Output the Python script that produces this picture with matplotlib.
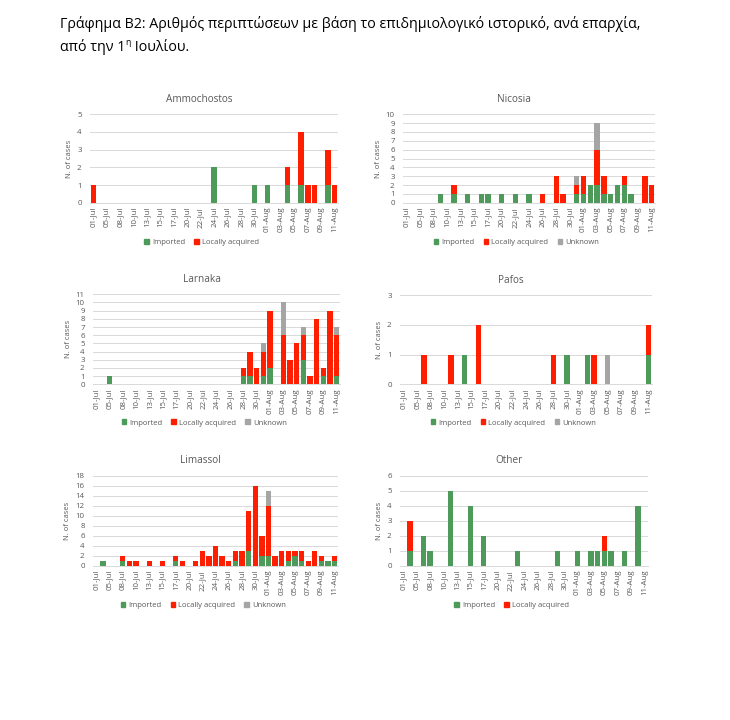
import matplotlib
matplotlib.use("Agg")
import matplotlib.pyplot as plt
from matplotlib.patches import Patch

plt.rcParams['font.family'] = ['Open Sans', 'DejaVu Sans']

W, H = 730, 720

# category axis (Excel text categories, only every other label is shown)
dates = ["01-Jul", "03-Jul", "05-Jul", "07-Jul", "08-Jul", "09-Jul", "10-Jul", "12-Jul",
         "13-Jul", "14-Jul", "15-Jul", "16-Jul", "17-Jul", "19-Jul", "20-Jul", "21-Jul",
         "22-Jul", "23-Jul", "24-Jul", "25-Jul", "26-Jul", "27-Jul", "28-Jul", "29-Jul",
         "30-Jul", "31-Jul", "01-Aug", "02-Aug", "03-Aug", "04-Aug", "05-Aug", "06-Aug",
         "07-Aug", "08-Aug", "09-Aug", "10-Aug", "11-Aug"]

ammo_imported = [0, 0, 0, 0, 0, 0, 0, 0, 0, 0,  0, 0, 0, 0, 0, 0, 0, 0, 2, 0,
                 0, 0, 0, 0, 1, 0, 1, 0, 0, 1,  0, 1, 0, 0, 0, 1, 0]
ammo_local = [1, 0, 0, 0, 0, 0, 0, 0, 0, 0,  0, 0, 0, 0, 0, 0, 0, 0, 0, 0,
              0, 0, 0, 0, 0, 0, 0, 0, 0, 1,  0, 3, 1, 1, 0, 2, 1]

nic_imported = [0, 0, 0, 0, 0, 1, 0, 1, 0, 1,  0, 1, 1, 0, 1, 0, 1, 0, 1, 0,
                0, 0, 0, 0, 0, 1, 1, 2, 2, 1,  1, 2, 2, 1, 0, 0, 0]
nic_local = [0, 0, 0, 0, 0, 0, 0, 1, 0, 0,  0, 0, 0, 0, 0, 0, 0, 0, 0, 0,
             1, 0, 3, 1, 0, 1, 2, 0, 4, 2,  0, 0, 1, 0, 0, 3, 2]
nic_unknown = [0, 0, 0, 0, 0, 0, 0, 0, 0, 0,  0, 0, 0, 0, 0, 0, 0, 0, 0, 0,
               0, 0, 0, 0, 0, 1, 0, 0, 3, 0,  0, 0, 0, 0, 0, 0, 0]

lar_imported = [0, 0, 1, 0, 0, 0, 0, 0, 0, 0,  0, 0, 0, 0, 0, 0, 0, 0, 0, 0,
                0, 0, 1, 1, 0, 1, 2, 0, 0, 0,  0, 3, 0, 0, 1, 0, 1]
lar_local = [0, 0, 0, 0, 0, 0, 0, 0, 0, 0,  0, 0, 0, 0, 0, 0, 0, 0, 0, 0,
             0, 0, 1, 3, 2, 3, 7, 0, 6, 3,  5, 3, 1, 8, 1, 9, 5]
lar_unknown = [0, 0, 0, 0, 0, 0, 0, 0, 0, 0,  0, 0, 0, 0, 0, 0, 0, 0, 0, 0,
               0, 0, 0, 0, 0, 1, 0, 0, 4, 0,  0, 1, 0, 0, 0, 0, 1]

paf_imported = [0, 0, 0, 0, 0, 0, 0, 0, 0, 1,  0, 0, 0, 0, 0, 0, 0, 0, 0, 0,
                0, 0, 0, 0, 1, 0, 0, 1, 0, 0,  0, 0, 0, 0, 0, 0, 1]
paf_local = [0, 0, 0, 1, 0, 0, 0, 1, 0, 0,  0, 2, 0, 0, 0, 0, 0, 0, 0, 0,
             0, 0, 1, 0, 0, 0, 0, 0, 1, 0,  0, 0, 0, 0, 0, 0, 1]
paf_unknown = [0, 0, 0, 0, 0, 0, 0, 0, 0, 0,  0, 0, 0, 0, 0, 0, 0, 0, 0, 0,
               0, 0, 0, 0, 0, 0, 0, 0, 0, 0,  1, 0, 0, 0, 0, 0, 0]

lim_imported = [0, 1, 0, 0, 1, 0, 0, 0, 0, 0,  0, 0, 1, 0, 0, 0, 0, 0, 0, 0,
                0, 1, 0, 3, 0, 2, 2, 0, 0, 1,  2, 1, 0, 0, 1, 1, 1]
lim_local = [0, 0, 0, 0, 1, 1, 1, 0, 1, 0,  1, 0, 1, 1, 0, 1, 3, 2, 4, 2,
             1, 2, 3, 8, 16, 4, 10, 2, 3, 2,  1, 2, 1, 3, 1, 0, 1]
lim_unknown = [0, 0, 0, 0, 0, 0, 0, 0, 0, 0,  0, 0, 0, 0, 0, 0, 0, 0, 0, 0,
               0, 0, 0, 0, 0, 0, 3, 0, 0, 0,  0, 0, 0, 0, 0, 0, 0]

oth_imported = [0, 1, 0, 2, 1, 0, 0, 5, 0, 0,  4, 0, 2, 0, 0, 0, 0, 1, 0, 0,
                0, 0, 0, 1, 0, 0, 1, 0, 1, 1,  1, 1, 0, 1, 0, 4, 0]
oth_local = [0, 2, 0, 0, 0, 0, 0, 0, 0, 0,  0, 0, 0, 0, 0, 0, 0, 0, 0, 0,
             0, 0, 0, 0, 0, 0, 0, 0, 0, 0,  1, 0, 0, 0, 0, 0, 0]

GREEN = "#4E9A5B"
RED = "#FF1F00"
GREY = "#A5A5A5"
TXT = "#595959"
GRID = "#D9D9D9"


def px_rect(left, right, top, bottom):
    return [left / W, 1 - bottom / H, (right - left) / W, (bottom - top) / H]


def panel(fig, box, name, imported, local, unknown, ymax, ystep, legend_y):
    left, right, top, bottom = box
    ax = fig.add_axes(px_rect(left, right, top, bottom))
    x = list(range(len(dates)))
    ax.bar(x, imported, width=0.8, color=GREEN, zorder=3)
    ax.bar(x, local, width=0.8, bottom=imported, color=RED, zorder=3)
    handles = [Patch(color=GREEN, label="Imported"),
               Patch(color=RED, label="Locally acquired")]
    if unknown is not None:
        base = [a + b for a, b in zip(imported, local)]
        ax.bar(x, unknown, width=0.8, bottom=base, color=GREY, zorder=3)
        handles.append(Patch(color=GREY, label="Unknown"))

    ax.set_xlim(-0.5, len(dates) - 0.5)
    ax.set_ylim(0, ymax)
    ax.set_yticks(range(0, ymax + 1, ystep))
    ax.set_xticks(x[::2])
    ax.set_xticklabels(dates[::2], rotation=90)
    ax.tick_params(axis='both', length=0, labelsize=5.7, colors=TXT)
    ax.tick_params(axis='x', pad=3)
    ax.tick_params(axis='y', pad=6)
    ax.grid(axis='y', color=GRID, linewidth=0.7, zorder=0)
    for s in ["top", "right", "left"]:
        ax.spines[s].set_visible(False)
    ax.spines["bottom"].set_color(GRID)
    ax.spines["bottom"].set_linewidth(0.7)
    ax.spines["bottom"].set_zorder(4)

    h = bottom - top
    ax.text(0.44, 1 + 15 / h, name, transform=ax.transAxes, ha='center',
            va='center', fontsize=7.2, color=TXT)
    ax.set_ylabel("N. of cases", fontsize=5.5, color=TXT, labelpad=3)
    ax.legend(handles=handles, loc='center', ncol=3, frameon=False,
              bbox_to_anchor=(0.45, -(legend_y - bottom) / h),
              fontsize=5.5, labelcolor=TXT, handlelength=0.6,
              handleheight=0.6, handletextpad=0.4, columnspacing=1.2)
    return ax


fig = plt.figure(figsize=(W / 100, H / 100), dpi=100)

# title, with the superscript "η"
renderer = fig.canvas.get_renderer()
fs = 10.3
fig.text(60 / W, 1 - 28 / H,
         "Γράφημα Β2: Αριθμός περιπτώσεων με βάση το επιδημιολογικό ιστορικό, ανά επαρχία,",
         fontsize=fs, color="black", va='baseline')
t1 = fig.text(60 / W, 1 - 51 / H, "από την 1", fontsize=fs, color="black", va='baseline')
x1 = t1.get_window_extent(renderer).x1
t2 = fig.text(x1 / W, 1 - 45 / H, "η", fontsize=fs * 0.6, color="black", va='baseline')
x2 = t2.get_window_extent(renderer).x1
fig.text(x2 / W, 1 - 51 / H, " Ιουλίου.", fontsize=fs, color="black", va='baseline')

panel(fig, (90, 338, 114.3, 202.7), "Ammochostos", ammo_imported, ammo_local, None, 5, 1, 242.7)
panel(fig, (403, 655, 114.3, 202.7), "Nicosia", nic_imported, nic_local, nic_unknown, 10, 1, 242.7)
panel(fig, (93, 340, 294.3, 384.3), "Larnaka", lar_imported, lar_local, lar_unknown, 11, 1, 423)
panel(fig, (400, 652, 295, 384.3), "Pafos", paf_imported, paf_local, paf_unknown, 3, 1, 423)
panel(fig, (93, 338, 475.7, 565.7), "Limassol", lim_imported, lim_local, lim_unknown, 18, 2, 605.7)
panel(fig, (400, 648, 475.7, 565.7), "Other", oth_imported, oth_local, None, 6, 1, 605.7)

fig.savefig("out.png", dpi=100)
